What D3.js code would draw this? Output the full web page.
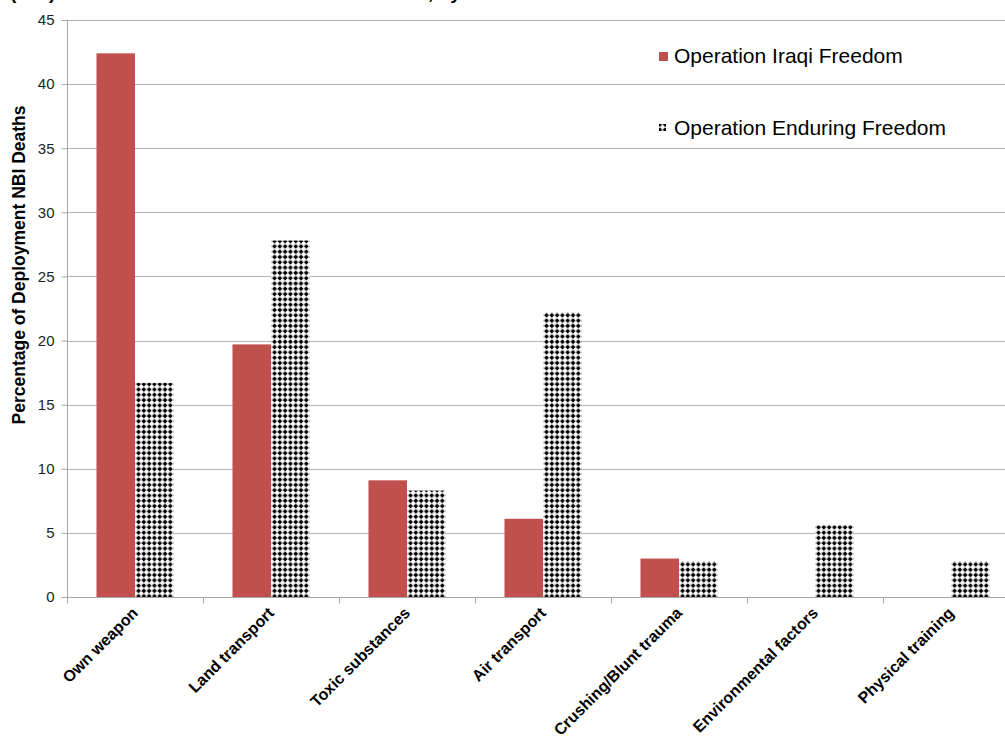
<!DOCTYPE html>
<html>
<head>
<meta charset="utf-8">
<script src="https://cdn.jsdelivr.net/npm/d3@7"></script>
<style>
  html, body { margin: 0; padding: 0; background: #fff; }
  svg { display: block; font-family: Arial, "Liberation Sans", sans-serif; }
</style>
</head>
<body>
<svg id="chart" width="1005" height="745"></svg>
<script>
// Causes of deployment non-battle injury deaths, by operation
const categories = ["Own weapon", "Land transport", "Toxic substances", "Air transport",
                    "Crushing/Blunt trauma", "Environmental factors", "Physical training"];
const seriesNames = ["Operation Iraqi Freedom", "Operation Enduring Freedom"];
const oifValues = [42.4, 19.7, 9.1, 6.1, 3.0, 0, 0];
const oefValues = [16.7, 27.8, 8.3, 22.2, 2.8, 5.6, 2.8];
const yTicks = [0, 5, 10, 15, 20, 25, 30, 35, 40, 45];

const svg = d3.select("#chart");
const margin = { left: 67, top: 20, right: -14, bottom: 148 };
const W = 1005, H = 745;
const plotLeft = margin.left, plotRight = W - margin.right;
const plotTop = margin.top, plotBottom = H - margin.bottom;

// dotted fill for the second series
const defs = svg.append("defs");
const pat = defs.append("pattern")
  .attr("id", "dots")
  .attr("patternUnits", "userSpaceOnUse")
  .attr("width", 5.3).attr("height", 5.3);
pat.append("rect").attr("width", 5.3).attr("height", 5.3).attr("fill", "#fff");
pat.append("path")
  .attr("d", "M1,0h2v1h1v2h-1v1h-2v-1h-1v-2h1z")
  .attr("transform", "translate(0.6,0.6)")
  .attr("fill", "#000");

const x = d3.scaleBand().domain(categories).range([plotLeft, plotRight]).paddingInner(0).paddingOuter(0);
const xSeries = d3.scaleBand().domain(seriesNames).range([0, x.bandwidth()]).paddingInner(0).paddingOuter(0.765);
const y = d3.scaleLinear().domain([0, 45]).range([plotBottom, plotTop]);

// title line (upper part runs off the top edge)
svg.append("text")
  .attr("x", 10).attr("y", -1)
  .attr("font-size", 19).attr("font-weight", "bold").attr("fill", "#000")
  .text("(NBI) Deaths in OIF and OEF Service Members, by Cause");

// horizontal gridlines
svg.append("g").selectAll("line")
  .data(yTicks.filter(d => d > 0))
  .join("line")
  .attr("x1", plotLeft).attr("x2", plotRight)
  .attr("y1", d => Math.round(y(d)) + 0.5).attr("y2", d => Math.round(y(d)) + 0.5)
  .attr("stroke", "#b3b3b3").attr("stroke-width", 1);

// bars
const groups = svg.append("g").selectAll("g")
  .data(categories.map((c, i) => ({ c, vals: [oifValues[i], oefValues[i]] })))
  .join("g")
  .attr("transform", d => `translate(${x(d.c)},0)`);

groups.selectAll("rect")
  .data(d => d.vals.map((v, j) => ({ s: seriesNames[j], v })))
  .join("rect")
  .filter(d => d.v > 0)
  .attr("x", d => xSeries(d.s))
  .attr("width", xSeries.bandwidth())
  .attr("y", d => y(d.v))
  .attr("height", d => y(0) - y(d.v))
  .attr("fill", d => d.s === seriesNames[0] ? "#c0504d" : "url(#dots)");

// y axis
const yAxis = d3.axisLeft(y).tickValues(yTicks).tickSize(6).tickPadding(7).tickFormat(d3.format("d"));
const yg = svg.append("g").attr("transform", `translate(${plotLeft + 0.5},0)`).call(yAxis);
yg.select(".domain").attr("stroke", "#a6a6a6").attr("d", `M0,${plotTop}V${plotBottom}`);
yg.selectAll(".tick line").attr("stroke", "#a6a6a6");
yg.selectAll(".tick text").attr("font-size", 15).attr("fill", "#222").attr("font-family", "Arial, 'Liberation Sans', sans-serif");

// x axis baseline and category separators
const xg = svg.append("g").attr("transform", `translate(0,${plotBottom + 0.5})`);
xg.append("line").attr("x1", plotLeft).attr("x2", plotRight).attr("stroke", "#a6a6a6");
xg.selectAll("line.sep")
  .data(categories.map(c => x(c)).concat([plotRight]))
  .join("line").attr("class", "sep")
  .attr("x1", d => Math.round(d) + 0.5).attr("x2", d => Math.round(d) + 0.5)
  .attr("y1", 0).attr("y2", 6).attr("stroke", "#a6a6a6");

// rotated category labels
svg.append("g").selectAll("text")
  .data(categories)
  .join("text")
  .attr("transform", d => `translate(${x(d) + x.bandwidth() / 2 + 4},${plotBottom + 17}) rotate(-45)`)
  .attr("text-anchor", "end")
  .attr("font-size", 16).attr("font-weight", "bold").attr("fill", "#000")
  .text(d => d);

// y-axis title
svg.append("text")
  .attr("transform", `translate(25,265) rotate(-90)`)
  .attr("text-anchor", "middle")
  .attr("font-size", 17.5).attr("font-weight", "bold").attr("fill", "#000")
  .text("Percentage of Deployment NBI Deaths");

// legend
const legend = svg.append("g");
const legendRows = [
  { name: seriesNames[0], fill: "#c0504d", y: 56 },
  { name: seriesNames[1], fill: "url(#dots)", y: 128 }
];
legend.selectAll("rect")
  .data(legendRows).join("rect")
  .attr("x", 659).attr("y", d => d.y - 4)
  .attr("width", d => d.fill === "#c0504d" ? 9 : 7)
  .attr("height", d => d.fill === "#c0504d" ? 9 : 7)
  .attr("fill", d => d.fill);
legend.selectAll("text")
  .data(legendRows).join("text")
  .attr("x", 674).attr("y", d => d.y + 7)
  .attr("font-size", 21).attr("fill", "#000")
  .text(d => d.name);
</script>
</body>
</html>
